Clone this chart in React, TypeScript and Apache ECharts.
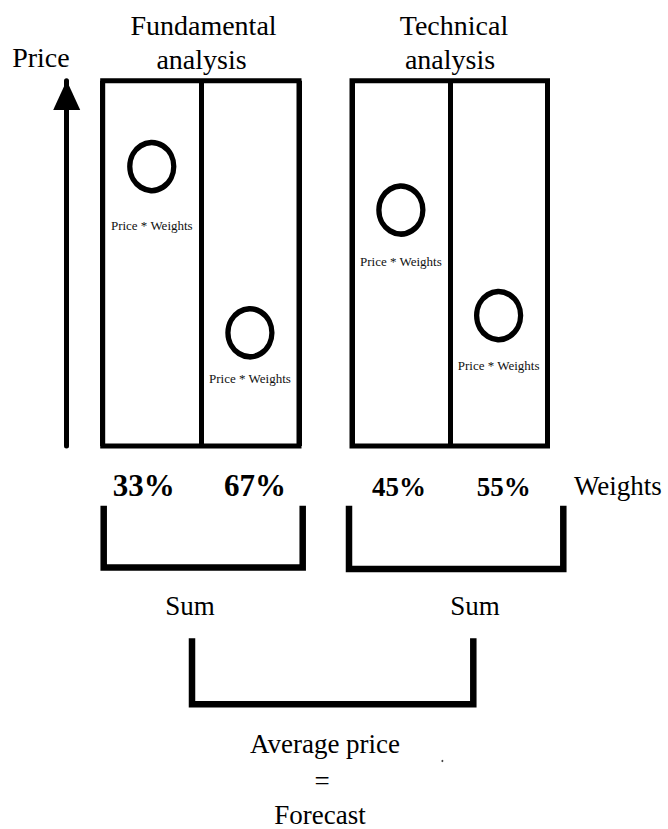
import React, { useEffect, useRef } from "react";
import * as echarts from "echarts";

// ---- data ----
const fundamentalWeights = ["33%", "67%"];
const technicalWeights = ["45%", "55%"];
const fundamentalPrices = [76.5, 31.0];
const technicalPrices = [64.6, 35.7];
const pointLabel = "Price * Weights";
const priceAxisName = "Price";
const weightsName = "Weights";
const groupTitles = ["Fundamental\nanalysis", "Technical\nanalysis"];
const sumLabel = "Sum";
const resultLines = ["Average price", "=", "Forecast"];

// ---- styles ----
const FONT = "'Liberation Serif', 'Times New Roman', serif";
const fundLabelGap = [25.5, 12.8];
const techLabelGap = [18.5, 16.5];
const fundLabelPad = [
  [0, 16, 0, 0],
  [0, 0, 0, 10],
];
const techLabelPad = [
  [0, 4, 0, 0],
  [0, 0, 0, 10],
];

export default function App() {
  const ref = useRef<HTMLDivElement>(null);
  useEffect(() => {
    if (!ref.current) return;
    const chart = echarts.init(ref.current, null, { renderer: "svg" });

    const gridBox = {
      show: true,
      borderColor: "#000",
      borderWidth: 5,
      backgroundColor: "#fff",
      containLabel: false,
    };

    const mkX = (idx: number, cats: string[], pads: number[][], size: number, margin: number) => ({
      type: "category",
      gridIndex: idx,
      data: cats.map((c, i) => ({ value: c, textStyle: { padding: pads[i] } })),
      boundaryGap: true,
      axisLine: { show: false },
      axisTick: { show: false },
      splitLine: { show: true, lineStyle: { color: "#000", width: 5 } },
      axisLabel: {
        show: true,
        interval: 0,
        margin,
        fontFamily: FONT,
        fontWeight: "bold",
        fontSize: size,
        color: "#000",
      },
    });

    const mkSeries = (idx: number, prices: number[], gaps: number[]) => ({
      type: "scatter",
      xAxisIndex: idx,
      yAxisIndex: idx,
      symbol: "circle",
      symbolSize: [44, 48],
      itemStyle: { color: "#fff", borderColor: "#000", borderWidth: 5.5, opacity: 1 },
      label: {
        show: true,
        position: "bottom",
        formatter: pointLabel,
        fontFamily: FONT,
        fontSize: 13,
        color: "#111",
      },
      emphasis: { disabled: true },
      data: prices.map((p, i) => ({ value: [i, p], label: { distance: gaps[i] } })),
    });

    const txt = (text: string, x: number, y: number, size: number, align = "center", extra: any = {}) => ({
      type: "text",
      x,
      y,
      style: {
        text,
        fontFamily: FONT,
        fontSize: size,
        fill: "#000",
        align,
        verticalAlign: "middle",
        ...extra,
      },
    });

    const bracket = (x1: number, x2: number, top: number, bottom: number) => ({
      type: "polyline",
      shape: { points: [[x1, top], [x1, bottom], [x2, bottom], [x2, top]] },
      style: { stroke: "#000", lineWidth: 6.5, fill: null, lineJoin: "miter", lineCap: "butt" },
    });

    const [fTitle1, fTitle2] = groupTitles[0].split("\n");
    const [tTitle1, tTitle2] = groupTitles[1].split("\n");

    chart.setOption({
      animation: false,
      backgroundColor: "#fff",
      grid: [
        { ...gridBox, left: 102.7, top: 80.7, width: 196.3, height: 365.3 },
        { ...gridBox, left: 352, top: 80.7, width: 195.5, height: 365.3 },
      ],
      xAxis: [
        mkX(0, fundamentalWeights, fundLabelPad, 31, 24),
        mkX(1, technicalWeights, techLabelPad, 27, 27),
      ],
      yAxis: [
        {
          type: "value",
          gridIndex: 0,
          min: 0,
          max: 100,
          position: "left",
          offset: 36,
          name: priceAxisName,
          nameLocation: "end",
          nameGap: 9,
          nameTextStyle: { fontFamily: FONT, fontSize: 28, color: "#000", align: "right", padding: [0, -3, 0, 0] },
          axisLine: {
            show: true,
            symbol: ["none", "triangle"],
            symbolSize: [27, 29.5],
            symbolOffset: [0, -14.5],
            lineStyle: { color: "#000", width: 5 },
          },
          axisTick: { show: false },
          axisLabel: { show: false },
          splitLine: { show: false },
        },
        {
          type: "value",
          gridIndex: 1,
          min: 0,
          max: 100,
          show: false,
          splitLine: { show: false },
        },
      ],
      series: [
        mkSeries(0, fundamentalPrices, fundLabelGap),
        mkSeries(1, technicalPrices, techLabelGap),
      ],
      graphic: [
        txt(fTitle1, 203.5, 25.5, 28),
        txt(fTitle2, 201.5, 59.5, 28),
        txt(tTitle1, 454, 25.5, 28),
        txt(tTitle2, 450, 59.5, 28),
        txt(weightsName, 574, 486, 27, "left"),
        bracket(103.7, 302.7, 505.7, 567.5),
        bracket(349, 563.3, 505.7, 569),
        txt(sumLabel, 190, 606, 27),
        txt(sumLabel, 475, 606, 27),
        bracket(192, 473.3, 638.3, 704.3),
        txt(resultLines[0], 325, 743.5, 27),
        txt(resultLines[1], 322, 781, 27),
        txt(resultLines[2], 320, 814.5, 27),
        { type: "circle", shape: { cx: 442.3, cy: 761, r: 1 }, style: { fill: "#444" } },
      ],
    });

    return () => chart.dispose();
  }, []);

  return (
    <div
      ref={ref}
      style={{ position: "absolute", left: 0, top: 0, width: 668, height: 829, background: "#fff" }}
    />
  );
}
